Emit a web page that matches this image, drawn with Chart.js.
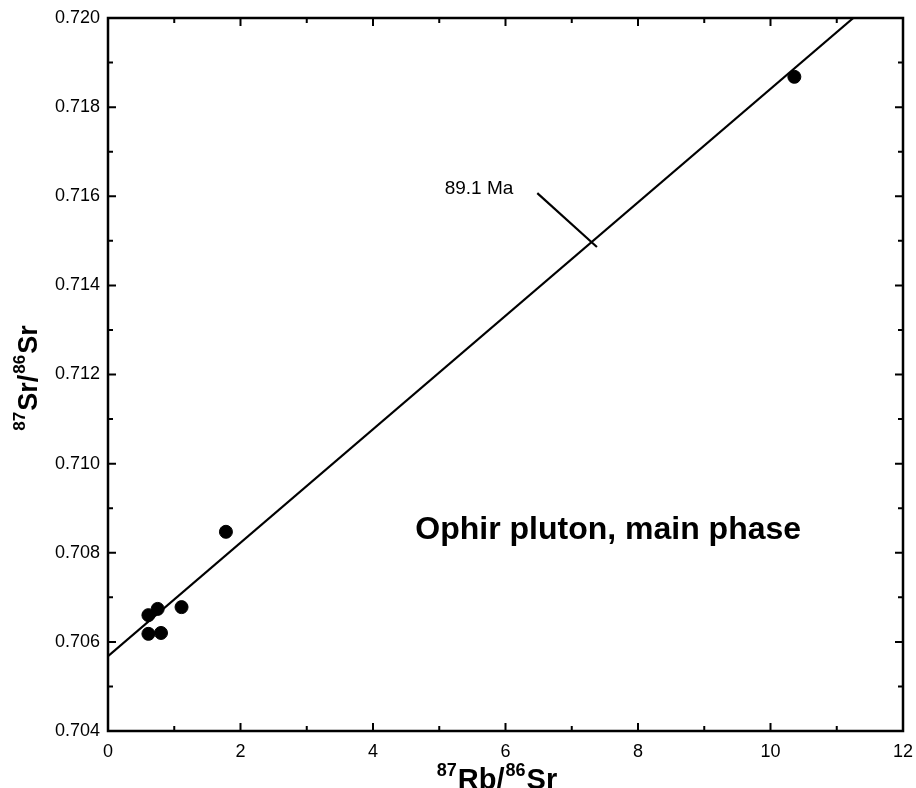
<!DOCTYPE html>
<html>
<head>
<meta charset="utf-8">
<script src="https://cdn.jsdelivr.net/npm/chart.js@4.4.0/dist/chart.umd.min.js"></script>
<style>
  html, body { margin: 0; padding: 0; background: #fff; }
  #wrap { width: 916px; height: 788px; }
</style>
</head>
<body>
<div id="wrap"><canvas id="myChart" width="916" height="788"></canvas></div>
<script>

// data
var rbSr = [10.36, 1.78, 1.11, 0.61, 0.75, 0.61, 0.80];
var srSr = [0.71868, 0.70847, 0.70678, 0.70660, 0.70674, 0.70618, 0.70620];

// isochron line (89.1 Ma) and the leader to its label
var isoX = [0, 11.25];
var isoY = [0.70568, 0.720];
var leaderX = [6.48, 7.38];
var leaderY = [0.71607, 0.71486];

var xTicks = [0, 2, 4, 6, 8, 10, 12];
var yTicks = [0.704, 0.706, 0.708, 0.710, 0.712, 0.714, 0.716, 0.718, 0.720];

var FONT = "'Liberation Sans', Arial, sans-serif";

var labels = [
  { text: "89.1 Ma", x: 5.6, y: 0.71617, font: "19px " + FONT },
  { text: "Ophir pluton, main phase", x: 7.55, y: 0.70851, font: "bold 32px " + FONT }
];

// axis titles as [text, superscript?] pieces
var xTitle = [["87", true], ["Rb/", false], ["86", true], ["Sr", false]];
var yTitle = [["87", true], ["Sr/", false], ["86", true], ["Sr", false]];

function pairs(xs, ys) {
  return xs.map(function(x, i) { return { x: x, y: ys[i] }; });
}

function drawTitle(ctx, parts, big, small, raise) {
  var w = 0;
  parts.forEach(function(p) {
    ctx.font = "bold " + (p[1] ? small : big) + "px " + FONT;
    w += ctx.measureText(p[0]).width + 1;
  });
  var x = -w / 2;
  parts.forEach(function(p) {
    ctx.font = "bold " + (p[1] ? small : big) + "px " + FONT;
    ctx.fillText(p[0], x, p[1] ? -raise : 0);
    x += ctx.measureText(p[0]).width + 1;
  });
}

// frame on all four sides with inward ticks, text labels and axis titles
var framePlugin = {
  id: "frame",
  afterDraw: function(chart) {
    var ctx = chart.ctx;
    var a = chart.chartArea;
    var xs = chart.scales.x, ys = chart.scales.y;
    ctx.save();
    ctx.strokeStyle = "#000";
    ctx.lineWidth = 2.5;
    ctx.strokeRect(a.left, a.top, a.right - a.left, a.bottom - a.top);

    function ticksFor(vals) {
      var out = [];
      for (var i = 0; i < vals.length; i++) {
        out.push({ v: vals[i], len: 8 });
        if (i < vals.length - 1) out.push({ v: (vals[i] + vals[i + 1]) / 2, len: 5 });
      }
      return out;
    }

    ctx.lineWidth = 2;
    ctx.beginPath();
    ticksFor(xTicks).forEach(function(t) {
      var px = xs.getPixelForValue(t.v);
      ctx.moveTo(px, a.bottom); ctx.lineTo(px, a.bottom - t.len);
      ctx.moveTo(px, a.top); ctx.lineTo(px, a.top + t.len);
    });
    ticksFor(yTicks).forEach(function(t) {
      var py = ys.getPixelForValue(t.v);
      ctx.moveTo(a.left, py); ctx.lineTo(a.left + t.len, py);
      ctx.moveTo(a.right, py); ctx.lineTo(a.right - t.len, py);
    });
    ctx.stroke();

    ctx.fillStyle = "#000";
    ctx.textAlign = "center";
    ctx.textBaseline = "middle";
    labels.forEach(function(l) {
      ctx.font = l.font;
      ctx.fillText(l.text, xs.getPixelForValue(l.x), ys.getPixelForValue(l.y));
    });

    ctx.textAlign = "left";
    ctx.textBaseline = "alphabetic";
    ctx.save();
    ctx.translate((a.left + a.right) / 2 - 8, a.bottom + 58);
    drawTitle(ctx, xTitle, 29, 18, 13);
    ctx.restore();

    ctx.save();
    ctx.translate(a.left - 71, (a.top + a.bottom) / 2 + 3);
    ctx.rotate(-Math.PI / 2);
    drawTitle(ctx, yTitle, 27, 17, 12);
    ctx.restore();

    ctx.restore();
  }
};

new Chart("myChart", {
  type: "scatter",
  data: {
    datasets: [
      {
        data: pairs(rbSr, srSr),
        backgroundColor: "#000",
        borderColor: "#000",
        pointRadius: 6.5,
        pointHoverRadius: 6.5
      },
      {
        data: pairs(isoX, isoY),
        showLine: true,
        borderColor: "#000",
        borderWidth: 2.2,
        pointRadius: 0
      },
      {
        data: pairs(leaderX, leaderY),
        showLine: true,
        borderColor: "#000",
        borderWidth: 2.2,
        pointRadius: 0
      }
    ]
  },
  options: {
    responsive: false,
    animation: false,
    layout: { padding: { top: 18, right: 13, left: 0, bottom: 0 } },
    plugins: {
      legend: { display: false },
      tooltip: { enabled: false }
    },
    scales: {
      x: {
        type: "linear",
        min: 0,
        max: 12,
        afterFit: function(s) { s.height = 57; s.paddingRight = 0; s.paddingLeft = 0; },
        afterBuildTicks: function(s) { s.ticks = xTicks.map(function(v) { return { value: v }; }); },
        grid: { display: false, drawTicks: false },
        border: { display: false },
        ticks: { color: "#000", padding: 10, maxRotation: 0, font: { family: FONT, size: 18 } }
      },
      y: {
        type: "linear",
        min: 0.704,
        max: 0.720,
        afterFit: function(s) { s.width = 108; s.paddingTop = 0; s.paddingBottom = 0; },
        afterBuildTicks: function(s) { s.ticks = yTicks.map(function(v) { return { value: v }; }); },
        grid: { display: false, drawTicks: false },
        border: { display: false },
        ticks: {
          color: "#000",
          padding: 8,
          font: { family: FONT, size: 18 },
          callback: function(v) { return v.toFixed(3); }
        }
      }
    }
  },
  plugins: [framePlugin]
});

</script>
</body>
</html>
